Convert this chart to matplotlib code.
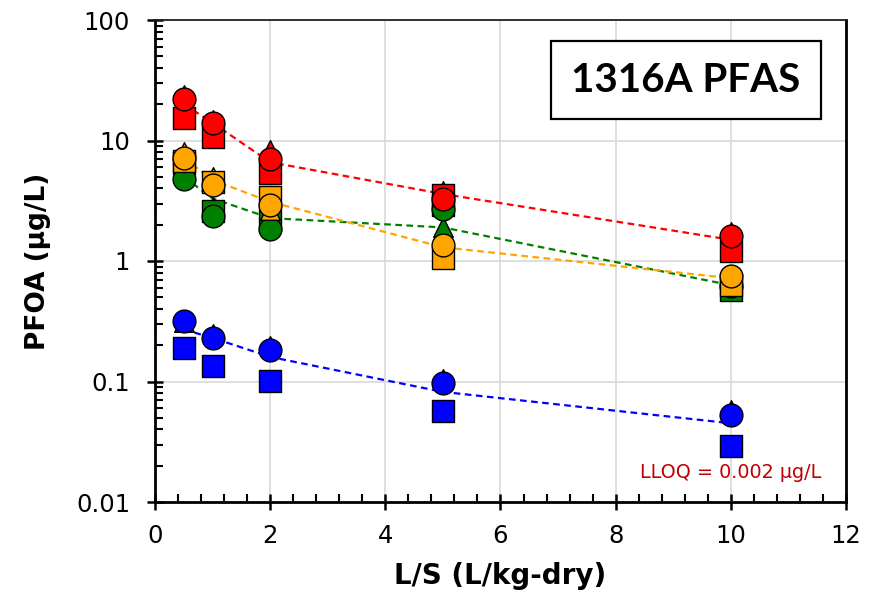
import matplotlib
matplotlib.use("Agg")
import matplotlib.pyplot as plt
from matplotlib.ticker import LogLocator, MultipleLocator, NullFormatter

ls = [0.5, 1, 2, 5, 10]

# replicate values (triangle, square, circle) per colour
red_tri = [24, 14.8, 8.3, 3.8, 1.75]
red_sq = [15.4, 10.7, 5.4, 3.5, 1.2]
red_ci = [22, 14, 7.0, 3.27, 1.6]
red_line = [20, 14, 6.6, 3.6, 1.5]

org_tri = [8.0, 5.0, 2.65, 1.2, 0.68]
org_sq = [6.8, 4.5, 3.4, 1.06, 0.63]
org_ci = [7.2, 4.3, 2.9, 1.36, 0.75]
org_line = [7.2, 4.7, 3.1, 1.3, 0.72]

grn_tri = [7.5, 2.8, 2.3, 1.9, 0.6]
grn_sq = [6.5, 2.6, 2.2, 2.9, 0.57]
grn_ci = [4.8, 2.36, 1.84, 2.7, 0.62]
grn_line = [5.0, 3.3, 2.27, 1.9, 0.63]

blu_tri = [0.31, 0.25, 0.197, 0.105, 0.058]
blu_sq = [0.19, 0.134, 0.101, 0.057, 0.029]
blu_ci = [0.318, 0.23, 0.182, 0.097, 0.053]
blu_line = [0.27, 0.23, 0.16, 0.082, 0.045]

y_ticks = [0.01, 0.1, 1, 10, 100]
y_labels = ["0.01", "0.1", "1", "10", "100"]

fig = plt.figure(figsize=(8.84, 6.0), dpi=100)
ax = fig.add_axes([155/884, 1-502/600, (846-155)/884, (502-20)/600])
ax.set_yscale("log")
ax.set_xlim(0, 12)
ax.set_ylim(0.01, 100)

ax.grid(True, which="major", color="#d9d9d9", lw=1.2, zorder=0)
ax.set_axisbelow(True)

series = [
    ("#008000", grn_tri, grn_sq, grn_ci, grn_line),
    ("#FFA500", org_tri, org_sq, org_ci, org_line),
    ("#FF0000", red_tri, red_sq, red_ci, red_line),
    ("#0000FF", blu_tri, blu_sq, blu_ci, blu_line),
]
z = 3
for col, tri, sq, ci, line in series:
    ax.plot(ls, line, ls=(0, (3, 2)), color=col, lw=1.6, zorder=2)
    ax.scatter(ls, tri, marker="^", s=200, c=col, edgecolors="black", linewidths=1.0, zorder=z)
    ax.scatter(ls, sq, marker="s", s=230, c=col, edgecolors="black", linewidths=1.0, zorder=z + 1)
    ax.scatter(ls, ci, marker="o", s=270, c=col, edgecolors="black", linewidths=1.0, zorder=z + 2)
    z += 3

ax.xaxis.set_major_locator(MultipleLocator(2))
ax.xaxis.set_minor_locator(MultipleLocator(0.4))
ax.yaxis.set_minor_locator(LogLocator(base=10, subs=range(2, 10), numticks=20))
ax.yaxis.set_minor_formatter(NullFormatter())
ax.set_yticks(y_ticks)
ax.set_yticklabels(y_labels)

ax.tick_params(axis="both", which="major", direction="inout", length=12, width=1.8, labelsize=17.5)
ax.tick_params(axis="both", which="minor", direction="in", length=6, width=1.5)
ax.tick_params(axis="y", which="major", pad=12)
ax.tick_params(axis="x", which="major", pad=10)

for s in ["left", "bottom", "right"]:
    ax.spines[s].set_linewidth(2.0)
    ax.spines[s].set_color("black")
ax.spines["top"].set_linewidth(1.3)
ax.spines["top"].set_color("#222222")

ax.set_xlabel("L/S (L/kg-dry)", fontsize=20, fontweight="bold", labelpad=10)
ax.set_ylabel("PFOA (µg/L)", fontsize=19, fontweight="bold", labelpad=18)

ax.text(731/884, 1-473/600, "LLOQ = 0.002 µg/L", transform=fig.transFigure, color="#C00000",
        fontsize=13.8, ha="center", va="center")

fig.text(686/884, 1-80/600, "1316A PFAS", fontsize=29, fontweight="bold", family="Lato",
         ha="center", va="center",
         bbox=dict(boxstyle="square,pad=0.5", fc="white", ec="black", lw=1.6))

fig.savefig("out.png", dpi=100)
